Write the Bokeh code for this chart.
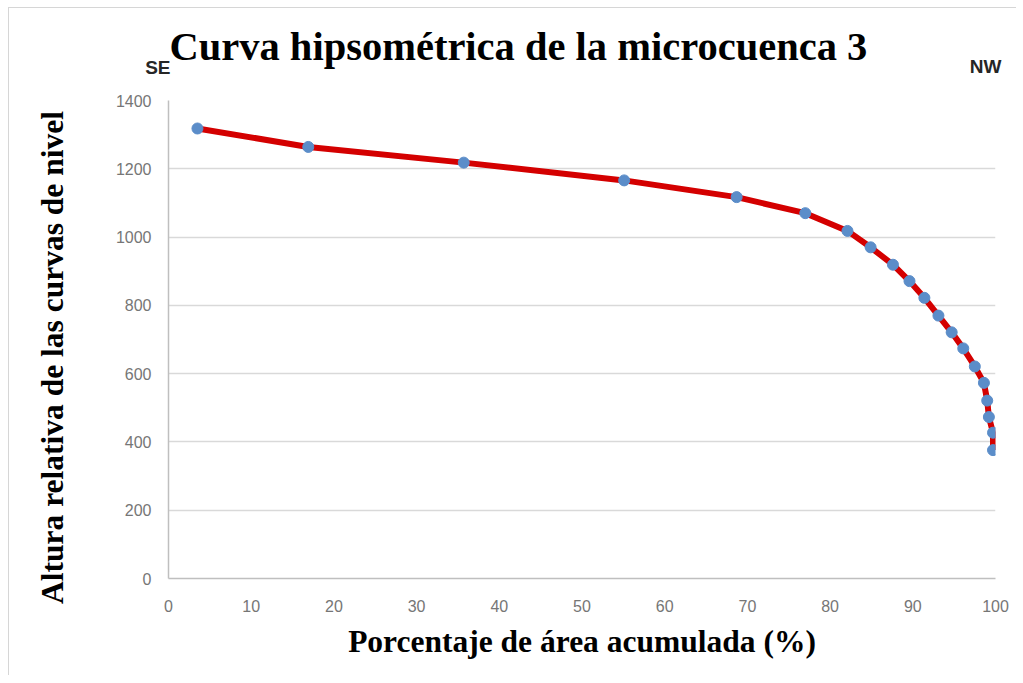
import math
from bokeh.plotting import figure
from bokeh.models import Range1d, FixedTicker, Label, ColumnDataSource
from bokeh.embed import file_html
from bokeh.resources import INLINE

# Data
area_pct = [3.5, 16.9, 35.7, 55.1, 68.7, 77.0, 82.1, 84.9, 87.6, 89.6,
            91.4, 93.1, 94.7, 96.1, 97.5, 98.6, 99.0, 99.2, 99.7, 99.7]
altura = [1318, 1264, 1218, 1166, 1117, 1070, 1018, 970, 919, 871,
          822, 770, 721, 674, 621, 573, 521, 473, 427, 376]
x_ticks = [0, 10, 20, 30, 40, 50, 60, 70, 80, 90, 100]
y_ticks = [0, 200, 400, 600, 800, 1000, 1200, 1400]

title_text = "Curva hipsométrica de la microcuenca 3"
x_label_text = "Porcentaje de área acumulada (%)"
y_label_text = "Altura relativa de las curvas de nivel"

src = ColumnDataSource(dict(x=area_pct, y=altura))

p = figure(width=1007, height=667, output_backend="svg", toolbar_location=None,
           x_range=Range1d(0, 100), y_range=Range1d(0, 1400),
           min_border_left=159, min_border_top=92, min_border_right=21,
           min_border_bottom=97)
p.frame_width = 827
p.frame_height = 478
p.outline_line_color = None
p.background_fill_color = "white"
p.border_fill_color = "white"
p.styles = {"margin-left": "8px", "margin-top": "7px",
            "border-left": "1px solid #d6d6d6", "border-top": "1px solid #d6d6d6"}

p.title.text = title_text
p.title.text_font = "Liberation Serif"
p.title.text_font_style = "bold"
p.title.text_font_size = "40.5px"
p.title.text_color = "black"
p.title.align = "left"
p.title.offset = 1
p.title.standoff = -20

p.xgrid.grid_line_color = None
p.ygrid.grid_line_color = "#d9d9d9"
p.ygrid.grid_line_width = 1.3

for ax in (p.xaxis[0], p.yaxis[0]):
    ax.axis_line_color = "#bfbfbf"
    ax.axis_line_width = 1.5
    ax.major_tick_line_color = None
    ax.minor_tick_line_color = None
    ax.major_tick_out = 0
    ax.major_tick_in = 0
    ax.major_label_text_font = "Liberation Sans"
    ax.major_label_text_font_size = "16px"
    ax.major_label_text_color = "#767676"
    ax.axis_label_text_font = "Liberation Serif"
    ax.axis_label_text_font_style = "bold"
    ax.axis_label_text_font_size = "31.5px"
    ax.axis_label_text_color = "black"

p.xaxis[0].ticker = FixedTicker(ticks=x_ticks)
p.yaxis[0].ticker = FixedTicker(ticks=y_ticks)
p.xaxis[0].major_label_standoff = 21
p.yaxis[0].major_label_standoff = 17
p.xaxis[0].axis_label = x_label_text
p.xaxis[0].axis_label_standoff = 9

p.line("x", "y", source=src, line_color="#d40000", line_width=6)
p.scatter("x", "y", source=src, size=11, fill_color="#5b8dc9",
          line_color="#5b8dc9", marker="circle")

p.add_layout(Label(x=2, y=33, x_units="screen", y_units="screen",
                   text="SE", text_font="Liberation Sans", text_font_style="bold",
                   text_font_size="19px", text_color="#262626",
                   text_align="right", text_baseline="alphabetic"), "above")
p.add_layout(Label(x=817, y=13, x_units="screen", y_units="screen",
                   text="NW", text_font="Liberation Sans", text_font_style="bold",
                   text_font_size="19px", text_color="#262626",
                   text_align="center", text_baseline="alphabetic"), "above")
p.add_layout(Label(x=-25, y=221, x_units="screen", y_units="screen",
                   text=y_label_text, text_font="Liberation Serif",
                   text_font_style="bold", text_font_size="31.5px",
                   text_color="black", angle=math.pi / 2,
                   text_align="center", text_baseline="middle"), "left")

open("out.html", "w").write(file_html(p, INLINE))
